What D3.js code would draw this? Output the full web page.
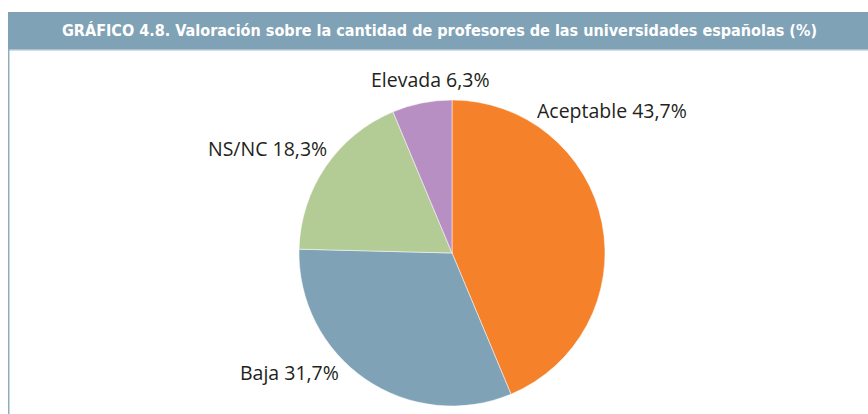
<!DOCTYPE html>
<html>
<head>
<meta charset="utf-8">
<script src="https://cdn.jsdelivr.net/npm/d3@7"></script>
<style>
  body { margin: 0; background: #fff; }
  svg { display: block; }
</style>
</head>
<body>
<div id="chart"></div>
<script>
// datos del grafico
var categorias = ["Aceptable", "Baja", "NS/NC", "Elevada"];
var valores = [43.7, 31.7, 18.3, 6.3];
var colores = ["#f5822a", "#7fa2b6", "#b3cb95", "#b78fc2"];
var titulo = "GRÁFICO 4.8. Valoración sobre la cantidad de profesores de las universidades españolas (%)";

var W = 868, H = 414;
var cx = 452, cy = 253, radio = 153;

// posicion de las etiquetas relativa al centro de la tarta (borde izquierdo, linea base)
var posEtiquetas = [[85, -135], [-212, 127], [-244, -97], [-81, -166]];

var svg = d3.select("#chart").append("svg")
  .attr("width", W).attr("height", H);

// cabecera
svg.append("rect")
  .attr("x", 8).attr("y", 12).attr("width", W - 8).attr("height", 37)
  .attr("fill", "#7fa2b6");
svg.append("rect")
  .attr("x", 8).attr("y", 49).attr("width", W - 8).attr("height", 1.5)
  .attr("fill", "#a9c1cf");
// linea del marco a la izquierda
svg.append("rect")
  .attr("x", 8).attr("y", 49).attr("width", 1.5).attr("height", H - 49)
  .attr("fill", "#8fadbf");

svg.append("text")
  .attr("x", 62).attr("y", 36)
  .attr("textLength", 755).attr("lengthAdjust", "spacingAndGlyphs")
  .style("font-family", "'Liberation Sans Narrow', 'DejaVu Sans Condensed', sans-serif")
  .style("font-weight", "bold").style("font-size", "16px")
  .attr("fill", "#fff")
  .text(titulo);

// tarta
var pie = d3.pie().sort(null).value(function(d) { return d; });
var arc = d3.arc().innerRadius(0).outerRadius(radio);

var g = svg.append("g").attr("transform", "translate(" + cx + "," + cy + ")");

g.selectAll("path")
  .data(pie(valores))
  .enter()
  .append("path")
  .attr("d", arc)
  .attr("fill", function(d, i) { return colores[i]; })
  .attr("stroke", "#fff")
  .attr("stroke-width", 0.5);

// etiquetas
g.selectAll("text.etiqueta")
  .data(categorias)
  .enter()
  .append("text")
  .attr("class", "etiqueta")
  .attr("x", function(d, i) { return posEtiquetas[i][0]; })
  .attr("y", function(d, i) { return posEtiquetas[i][1]; })
  .style("font-family", "'Open Sans', sans-serif")
  .style("font-size", "19.5px")
  .attr("fill", "#231f20")
  .text(function(d, i) { return d + " " + String(valores[i]).replace(".", ",") + "%"; });
</script>
</body>
</html>
